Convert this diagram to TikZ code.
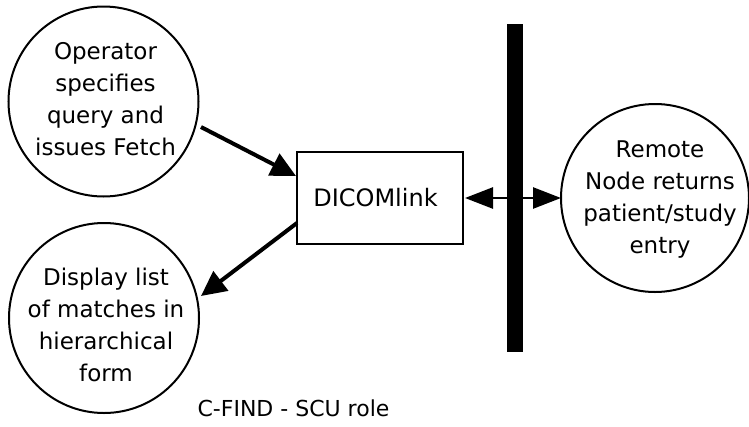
\documentclass[tikz,border=0pt]{standalone}
\usepackage{fontspec}
\setmainfont{DejaVu Sans}
\usetikzlibrary{arrows.meta}
\tikzset{
 x=1pt,y=-1pt,
 circ/.style={draw,circle,line width=2pt,inner sep=0pt,minimum size=190pt},
 circtext/.style={align=center,inner sep=0pt,font=\fontsize{23}{32}\selectfont},
 box/.style={draw,line width=2pt,minimum width=166pt,minimum height=92pt,inner sep=0pt},
 conn/.style={line width=4pt,-{Triangle[length=25pt,width=24pt]}},
 dbl/.style={line width=2.6pt,{Triangle[length=28pt,width=21pt]}-{Triangle[length=28pt,width=21pt]}}
}
\begin{document}
\begin{tikzpicture}
\useasboundingbox (0,0) rectangle (749,426);
\node[circ,label={[circtext,xshift=2pt,yshift=2pt]center:Operator\\specifies\\query and\\issues Fetch}] (op) at (103.5,101.5) {};
\node[circ,label={[circtext,xshift=2pt,yshift=-7pt]center:Display list\\of matches in\\hierarchical\\form}] (disp) at (104,318) {};
\node[circ,minimum size=188pt,label={[circtext,xshift=5pt,yshift=-2pt]center:Remote\\Node returns\\patient/study\\entry}] (rem) at (655,198) {};
\node[box,label={[font=\fontsize{24}{28}\selectfont,xshift=-4.5pt]center:DICOMlink}] (dl) at (380,198) {};
\node[fill=black,minimum width=16pt,minimum height=328pt,inner sep=0pt] (bar) at (515,188) {};
\node[font=\fontsize{22}{26}\selectfont] (cap) at (293.5,408) {C-FIND - SCU role};
\coordinate (a1) at (201,127);
\coordinate (a2) at (296,176);
\draw[conn] (a1) -- (a2);
\coordinate (b1) at (297,223);
\coordinate (b2) at (201,296);
\draw[conn] (b1) -- (b2);
\coordinate (c1) at (465,198);
\coordinate (c2) at (561,198);
\draw[dbl] (c1) -- (c2);
\end{tikzpicture}
\end{document}
